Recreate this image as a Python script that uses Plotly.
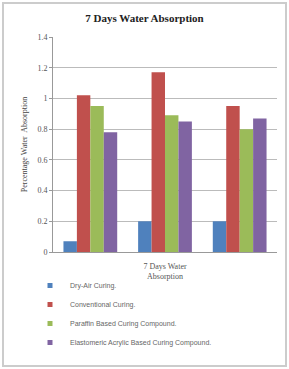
import plotly.graph_objects as go

groups = [0, 1, 2]
group_labels = ["", "7 Days Water<br>Absorption", ""]
series_names = ["Dry-Air Curing.", "Conventional Curing.",
                "Paraffin Based Curing Compound.",
                "Elastomeric Acrylic Based Curing Compound."]
dry_air = [0.07, 0.20, 0.20]
conventional = [1.02, 1.17, 0.95]
paraffin = [0.95, 0.89, 0.80]
acrylic = [0.78, 0.85, 0.87]
colors = ["#4F81BD", "#C0504D", "#9BBB59", "#8064A2"]
y_ticks = [0, 0.2, 0.4, 0.6, 0.8, 1.0, 1.2, 1.4]
y_tick_text = ["0", "0.2", "0.4", "0.6", "0.8", "1", "1.2", "1.4"]

fig = go.Figure()
for name, vals, c in zip(series_names, [dry_air, conventional, paraffin, acrylic], colors):
    fig.add_trace(go.Bar(x=groups, y=vals, name=name, marker_color=c,
                         marker_line_width=0, showlegend=False, legendgroup=name))
    fig.add_trace(go.Scatter(x=[None], y=[None], mode="markers", name=name,
                             marker=dict(symbol="square", size=5, color=c),
                             legendgroup=name, showlegend=True))

W, H = 289, 369
ml, mr, mt, mb = 53, 12, 37, 117
pw, ph = W - ml - mr, H - mt - mb

def px(x):
    return (x - ml) / pw

def py(y):
    return (H - mb - y) / ph

fig.update_layout(
    width=W, height=H,
    margin=dict(l=ml, r=mr, t=mt, b=mb),
    paper_bgcolor="white", plot_bgcolor="white",
    barmode="group", bargap=0.28, bargroupgap=0,
    title=dict(text="<b>7 Days Water Absorption</b>", x=0.5, xanchor="center",
               y=1 - 18 / H, yanchor="middle",
               font=dict(family="Liberation Serif", size=11, color="#222")),
    xaxis=dict(tickmode="array", tickvals=groups, ticktext=group_labels,
               range=[-0.5, 2.5], showgrid=False, showline=True, linecolor="#999",
               linewidth=1, ticks="outside", ticklen=6, tickcolor="rgba(0,0,0,0)",
               tickfont=dict(family="Liberation Serif", size=8, color="#555")),
    yaxis=dict(range=[0, 1.4], tickvals=y_ticks, ticktext=y_tick_text,
               showgrid=True, gridcolor="#bbb", gridwidth=1, showline=True,
               linecolor="#999", ticks="outside", ticklen=3, tickcolor="#999",
               tickfont=dict(family="Liberation Serif", size=8, color="#555"),
               title=dict(text="Percentage Water  Absorption", standoff=8,
                          font=dict(family="Liberation Serif", size=8, color="#444"))),
    legend=dict(orientation="v", x=px(30), xanchor="left", y=py(271), yanchor="top",
                font=dict(family="Liberation Sans", size=7, color="#666"),
                itemwidth=30, tracegroupgap=0, bgcolor="rgba(0,0,0,0)"),
    showlegend=True,
)
fig.add_shape(type="rect", xref="paper", yref="paper",
              x0=px(3), x1=px(286), y0=py(366), y1=py(3),
              line=dict(color="#ccc", width=2), layer="below")
fig.write_html("out.html")
